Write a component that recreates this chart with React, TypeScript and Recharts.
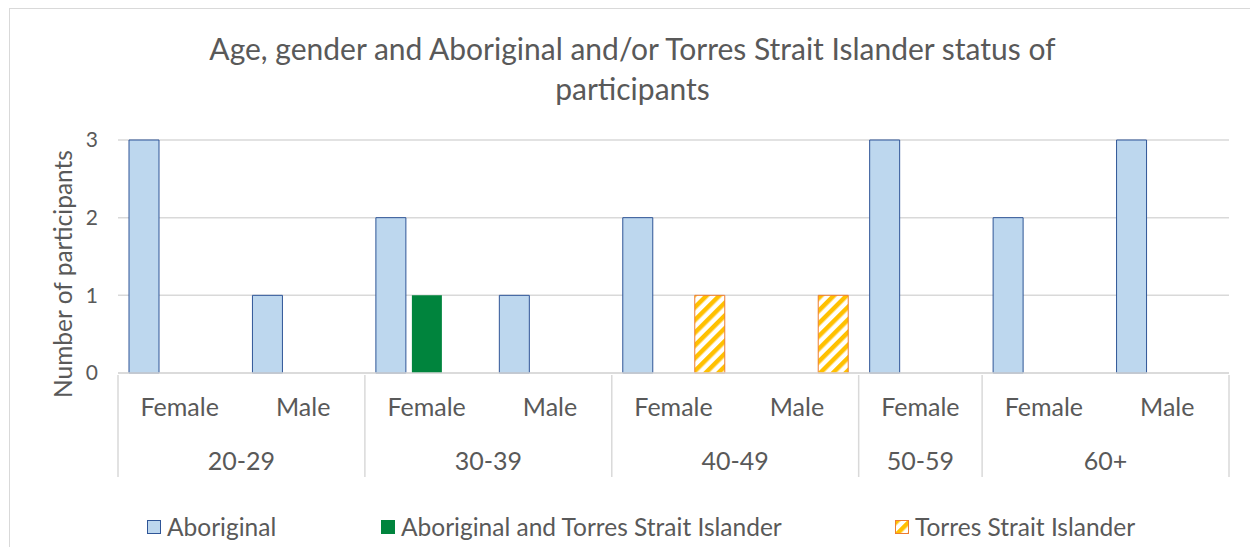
import React from "react";
import { BarChart, Bar, XAxis, YAxis, CartesianGrid } from "recharts";

const genders = ["Female", "Male", "Female", "Male", "Female", "Male", "Female", "Female", "Male"];
const ageGroups = ["20-29", "20-29", "30-39", "30-39", "40-49", "40-49", "50-59", "60+", "60+"];
const aboriginal = [3, 1, 2, 1, 2, null, 3, 2, 3];
const aboriginalAndTsi = [null, null, 1, null, null, null, null, null, null];
const torresStrait = [null, null, null, null, 1, 1, null, null, null];
const yTicks = [0, 1, 2, 3];

const series = [
  { key: "aboriginal", name: "Aboriginal", fill: "#BDD7EE", stroke: "#2F5597" },
  { key: "both", name: "Aboriginal and Torres Strait Islander", fill: "#00843D", stroke: "none" },
  { key: "tsi", name: "Torres Strait Islander", fill: "url(#tsiHatch)", stroke: "#ED7D31" },
];

const data = genders.map((g, i) => ({
  gender: g,
  age: ageGroups[i],
  aboriginal: aboriginal[i],
  both: aboriginalAndTsi[i],
  tsi: torresStrait[i],
}));

const W = 1245, H = 540;
const M = { top: 131, right: 26, bottom: 66, left: 0 };
const Y_W = 108;
const X_H = 110;
const BW = (W - M.left - M.right - Y_W) / data.length;
const TXT = "#595959";
const FONT = "Lato, 'Open Sans', sans-serif";
const legendLeft = [137, 371, 885];

const XTick = (props: any) => {
  const { x, y, index } = props;
  const bw = props.payload?.offset ? props.payload.offset * 2 : BW;
  const age = ageGroups[index];
  const first = index === 0 || ageGroups[index - 1] !== age;
  const last = index === ageGroups.length - 1;
  const count = ageGroups.filter(a => a === age).length;
  return (
    <g>
      <text x={x} y={y + 31} textAnchor="middle" dominantBaseline="central"
        fill={TXT} fontSize={25} fontFamily={FONT}>{genders[index]}</text>
      {first && (
        <>
          <line x1={x - bw / 2} x2={x - bw / 2} y1={y} y2={y + 102} stroke="#d9d9d9" strokeWidth={1.5} />
          <text x={x + ((count - 1) / 2) * bw} y={y + 85} textAnchor="middle" dominantBaseline="central"
            fill={TXT} fontSize={25} fontFamily={FONT}>{age}</text>
        </>
      )}
      {last && <line x1={x + bw / 2} x2={x + bw / 2} y1={y} y2={y + 102} stroke="#d9d9d9" strokeWidth={1.5} />}
    </g>
  );
};

const Swatch = ({ s }: { s: typeof series[number] }) => (
  <svg width={14} height={14} style={{ marginRight: 6 }}>
    <rect x={0.5} y={0.5} width={13} height={13} fill={s.fill}
      stroke={s.stroke === "none" ? s.fill : s.stroke} strokeWidth={1} />
  </svg>
);

export default function App() {
  return (
    <div style={{ position: "relative", width: W, height: H, marginLeft: 1,
      border: "1px solid #d9d9d9", borderBottom: "none", fontFamily: FONT, color: TXT, background: "#fff" }}>
      <svg width={0} height={0} style={{ position: "absolute" }}>
        <defs>
          <pattern id="tsiHatch" width={9} height={9} patternUnits="userSpaceOnUse" patternTransform="rotate(45)">
            <rect width={9} height={9} fill="#ffffff" />
            <rect width={4.5} height={9} fill="#FFC000" />
          </pattern>
        </defs>
      </svg>

      <div style={{ position: "absolute", top: 19, left: 0, width: W, textAlign: "center",
        fontSize: 30, lineHeight: "40px" }}>
        Age, gender and Aboriginal and/or Torres Strait Islander status of<br />participants
      </div>

      <div style={{ position: "absolute", left: 52, top: 265, width: 0, height: 0 }}>
        <div style={{ position: "absolute", transform: "translate(-50%,-50%) rotate(-90deg)",
          whiteSpace: "nowrap", fontSize: 24.5 }}>Number of participants</div>
      </div>

      <BarChart width={W} height={H} data={data} margin={M} barSize={30} barGap={6}>
        <CartesianGrid vertical={false} stroke="#d9d9d9" strokeWidth={1.5} />
        <XAxis dataKey="gender" interval={0} height={X_H} tickLine={false} tickSize={0}
          axisLine={{ stroke: "#d9d9d9", strokeWidth: 1.5 }} tick={<XTick />} />
        <YAxis width={Y_W} domain={[0, 3]} ticks={yTicks} axisLine={false} tickLine={false}
          tickMargin={14} tick={{ fill: TXT, fontSize: 21, fontFamily: FONT }} />
        {series.map(s => (
          <Bar key={s.key} dataKey={s.key} name={s.name} fill={s.fill} stroke={s.stroke}
            strokeWidth={1} isAnimationActive={false} />
        ))}
      </BarChart>

      {series.map((s, i) => (
        <div key={s.key} style={{ position: "absolute", left: legendLeft[i], top: 504,
          display: "flex", alignItems: "center", fontSize: 24.5, lineHeight: "28px", whiteSpace: "nowrap" }}>
          <Swatch s={s} />{s.name}
        </div>
      ))}
    </div>
  );
}
